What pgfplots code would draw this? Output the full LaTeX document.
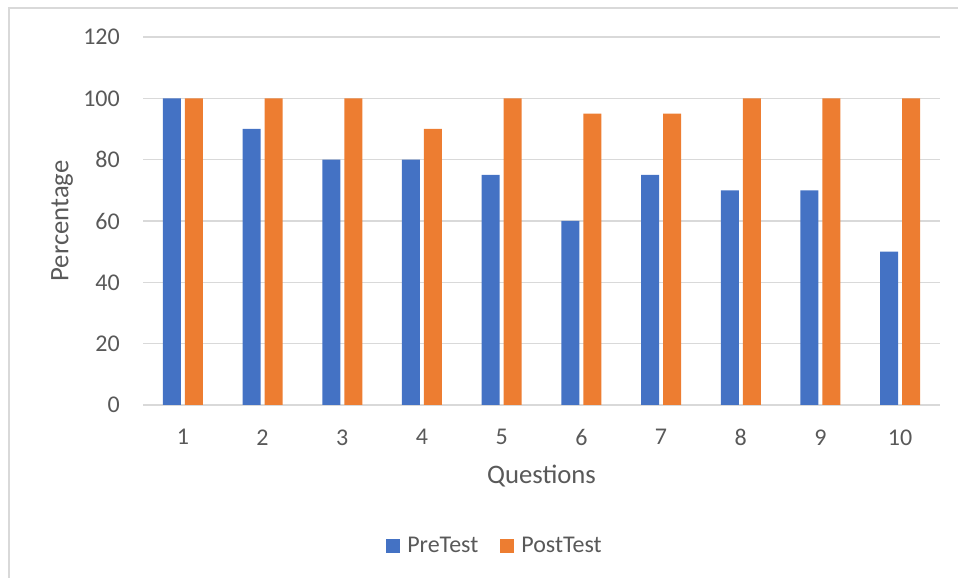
\documentclass[border=0pt]{standalone}
\usepackage{pgfplots}
\pgfplotsset{compat=1.18}
\usepackage{fontspec}
\setmainfont{Carlito}
\definecolor{cblue}{HTML}{4472C4}
\definecolor{corange}{HTML}{ED7D31}
\definecolor{cgrid}{HTML}{D9D9D9}
\definecolor{ctext}{HTML}{595959}
\begin{document}
\begin{tikzpicture}
\useasboundingbox (0pt,0pt) rectangle (958pt,578pt);
\draw[cgrid, line width=1.5pt] (9pt,0pt) -- (9pt,570pt) -- (958pt,570pt);
\begin{axis}[
  at={(143pt,173pt)}, anchor=south west,
  scale only axis, width=797pt, height=368pt,
  xmin=0.5, xmax=10.5, ymin=0, ymax=120,
  ytick={0,20,...,120}, xtick={1,...,10},
  ybar=4pt, bar width=18pt,
  axis line style={draw=none},
  tick style={draw=none},
  ymajorgrids, grid style={cgrid, line width=1.3pt},
  font=\fontsize{24}{28}\selectfont,
  ticklabel style={text=ctext, font=\fontsize{24}{28}\selectfont},
  yticklabel style={inner sep=0pt, xshift=-23pt},
  xticklabel style={inner sep=0pt, anchor=north, yshift=-20pt},
  /pgf/number format/assume math mode=true,
  xlabel={Questions}, ylabel={Percentage},
  label style={text=ctext, font=\fontsize{26.7}{30}\selectfont},
  xlabel style={at={(axis description cs:0.5,-0.193)}, anchor=center},
  ylabel style={at={(axis description cs:-0.1016,0.5)}, anchor=center},
  legend columns=2,
  legend style={draw=none, fill=none, at={(axis description cs:0.4404,-0.383)}, anchor=center,
    font=\fontsize{24}{28}\selectfont, text=ctext,
    nodes={inner sep=0pt},
    /tikz/every odd column/.append style={column sep=7pt},
    /tikz/every even column/.append style={column sep=22pt}},
  legend image code/.code={\fill[#1] (0pt,-7pt) rectangle (14pt,7pt);},
]
\addplot[fill=cblue, draw=none] coordinates {(1,100) (2,90) (3,80) (4,80) (5,75) (6,60) (7,75) (8,70) (9,70) (10,50)};
\addplot[fill=corange, draw=none] coordinates {(1,100) (2,100) (3,100) (4,90) (5,100) (6,95) (7,95) (8,100) (9,100) (10,100)};
\legend{PreTest, PostTest}
\end{axis}
\end{tikzpicture}
\end{document}
